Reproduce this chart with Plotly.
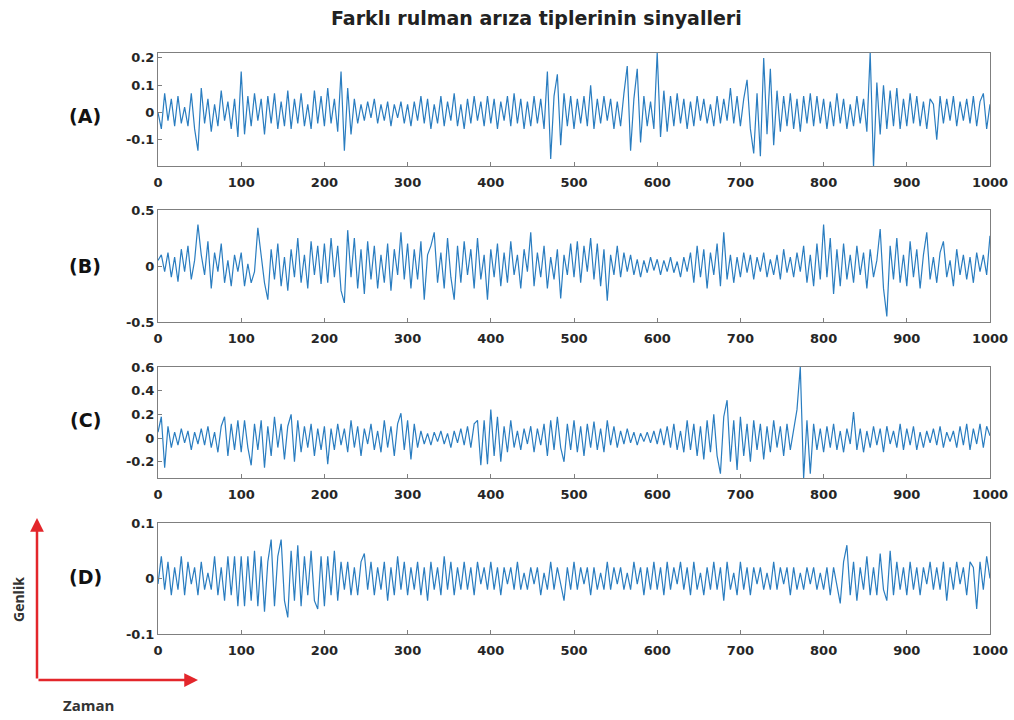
import plotly.graph_objects as go

# ---------------- data (sampled every 4 samples, 0..1000) ----------------
signal_a = [
    0.0, -0.06, 0.07, -0.03, 0.05, -0.05, 0.06, -0.04, 0.02, -0.05, 0.07, -0.06, -0.14, 0.09, -0.04, 0.05, -0.07, 0.03, -0.05, 0.08, -0.03, 0.04, -0.06, 0.05, -0.09,
    0.15, -0.08, 0.06, -0.05, 0.07, -0.03, 0.05, -0.08, 0.06, -0.04, 0.07, -0.06, 0.04, -0.05, 0.08, -0.06, 0.05, -0.04, 0.07, -0.05, 0.03, -0.06, 0.08, -0.04, 0.06,
    -0.05, 0.09, -0.04, 0.05, -0.07, 0.15, -0.14, 0.09, -0.08, 0.05, -0.04, 0.03, -0.03, 0.04, -0.02, 0.05, -0.04, 0.03, -0.03, 0.04, -0.05, 0.03, -0.02, 0.04, -0.04,
    0.03, -0.05, 0.04, -0.03, 0.06, -0.04, 0.05, -0.06, 0.03, -0.04, 0.06, -0.05, 0.04, -0.03, 0.07, -0.05, 0.03, -0.06, 0.05, -0.04, 0.06, -0.03, 0.04, -0.05, 0.06,
    -0.04, 0.05, -0.06, 0.04, -0.03, 0.06, -0.05, 0.07, -0.04, 0.05, -0.06, 0.04, -0.05, 0.06, -0.04, 0.05, -0.06, 0.15, -0.17, 0.06, 0.14, -0.12, 0.07, -0.05, 0.06,
    -0.06, 0.05, -0.04, 0.06, -0.05, 0.10, -0.06, 0.05, -0.04, 0.06, -0.03, 0.05, -0.06, 0.04, -0.05, 0.07, 0.17, -0.14, 0.05, 0.16, -0.11, 0.06, -0.05, 0.04, -0.06,
    0.22, -0.09, 0.08, -0.07, 0.06, -0.05, 0.07, -0.04, 0.05, -0.06, 0.04, -0.05, 0.06, -0.03, 0.05, -0.04, 0.03, -0.05, 0.06, -0.04, 0.05, -0.03, 0.09, -0.04, 0.06,
    -0.05, 0.05, 0.12, -0.06, -0.15, 0.07, -0.16, 0.20, -0.08, 0.16, -0.12, 0.08, -0.07, 0.06, -0.05, 0.07, -0.06, 0.05, -0.07, 0.06, -0.04, 0.07, -0.05, 0.06, -0.04,
    0.05, -0.06, 0.04, -0.05, 0.07, -0.04, 0.05, -0.06, 0.03, -0.05, 0.06, -0.04, 0.05, -0.07, 0.22, -0.20, 0.11, -0.08, 0.10, -0.06, 0.08, -0.05, 0.09, -0.06, 0.05,
    -0.05, 0.07, -0.04, 0.06, -0.05, 0.04, -0.06, 0.05, 0.03, -0.10, 0.06, -0.04, 0.05, -0.03, 0.06, -0.05, 0.04, -0.03, 0.05, -0.04, 0.06, -0.05, 0.04, 0.07, -0.06,
    0.03,
]
signal_b = [
    0.05, 0.10, -0.05, 0.12, -0.10, 0.08, -0.14, 0.15, -0.05, 0.18, -0.12, 0.05, 0.37, 0.10, -0.08, 0.22, -0.20, 0.12, -0.05, 0.20, -0.15, 0.05, -0.18, 0.10, -0.05,
    0.12, -0.18, 0.02, -0.15, -0.05, 0.34, 0.10, -0.15, -0.30, 0.15, -0.12, 0.20, -0.18, 0.08, -0.22, 0.15, -0.10, 0.25, -0.15, 0.10, -0.20, 0.22, -0.08, 0.18, -0.16,
    0.20, -0.15, 0.25, -0.10, 0.18, -0.22, -0.33, 0.32, -0.10, 0.25, -0.20, 0.15, -0.25, 0.22, -0.12, 0.18, -0.20, 0.10, -0.15, 0.20, -0.22, 0.15, -0.08, 0.30, -0.12,
    0.20, -0.20, 0.15, -0.12, 0.22, -0.30, 0.10, 0.18, 0.30, -0.15, 0.12, -0.20, 0.25, -0.10, -0.30, 0.18, -0.15, 0.22, -0.08, 0.15, -0.20, 0.25, -0.12, 0.10, -0.30,
    0.15, -0.10, 0.20, -0.18, 0.12, -0.15, 0.22, -0.08, 0.10, -0.20, 0.15, -0.05, 0.30, -0.18, 0.12, -0.10, 0.18, -0.20, 0.08, -0.12, 0.15, -0.29, 0.10, -0.08, 0.20,
    -0.10, 0.22, -0.15, 0.18, -0.05, 0.25, -0.12, 0.20, -0.18, 0.15, -0.31, 0.10, -0.08, 0.18, -0.10, 0.12, -0.05, 0.10, -0.08, 0.06, -0.10, 0.05, -0.06, 0.08, -0.04,
    0.06, -0.08, 0.05, -0.05, 0.08, -0.06, 0.04, -0.10, 0.08, -0.05, 0.12, -0.15, 0.18, -0.10, 0.15, -0.20, 0.12, -0.08, 0.20, -0.18, 0.30, -0.12, 0.10, -0.15, 0.08,
    -0.10, 0.12, -0.06, 0.10, -0.12, 0.08, -0.05, 0.12, -0.10, 0.06, -0.08, 0.10, -0.12, 0.15, -0.06, 0.08, -0.10, 0.12, -0.05, 0.18, -0.15, 0.10, -0.18, 0.20, -0.12,
    0.37, -0.10, 0.25, -0.25, 0.15, -0.18, 0.20, -0.12, 0.10, -0.15, 0.18, -0.08, 0.12, -0.20, 0.15, -0.10, 0.05, 0.33, -0.20, -0.45, 0.18, -0.12, 0.25, -0.15, 0.10,
    -0.18, 0.22, -0.10, 0.15, -0.20, 0.10, 0.30, -0.12, 0.08, -0.15, 0.12, 0.22, -0.10, 0.05, -0.18, 0.15, -0.08, 0.10, -0.12, 0.08, -0.15, 0.12, -0.05, 0.10, -0.08,
    0.27,
]
signal_c = [
    0.05, 0.18, -0.25, 0.10, -0.08, 0.05, -0.06, 0.08, -0.04, 0.06, -0.10, 0.05, -0.05, 0.08, -0.06, 0.10, -0.08, 0.05, -0.12, 0.10, 0.18, -0.15, 0.12, -0.10, 0.15,
    -0.12, 0.15, -0.08, -0.23, 0.12, -0.10, 0.15, -0.25, 0.10, -0.15, 0.18, -0.08, 0.12, -0.18, 0.10, 0.20, -0.20, 0.15, -0.12, 0.10, -0.08, 0.12, -0.15, 0.08, -0.10,
    0.10, -0.22, 0.08, -0.10, 0.12, -0.06, 0.08, -0.12, 0.15, -0.08, 0.10, -0.15, 0.08, -0.05, 0.12, -0.10, 0.06, -0.12, 0.15, -0.08, 0.10, -0.15, 0.12, 0.21, -0.10,
    0.15, -0.18, 0.12, -0.08, 0.06, -0.05, 0.04, -0.06, 0.05, -0.03, 0.06, -0.05, 0.04, -0.08, 0.06, -0.04, 0.08, -0.06, 0.10, -0.08, 0.12, 0.15, -0.23, 0.15, -0.22,
    0.24, -0.15, 0.18, -0.20, 0.10, -0.12, 0.15, -0.08, 0.06, -0.10, 0.08, -0.05, 0.10, -0.12, 0.08, -0.06, 0.12, -0.15, 0.15, -0.10, 0.18, -0.08, -0.20, 0.12, -0.10,
    0.15, -0.12, 0.10, -0.15, 0.12, -0.08, 0.14, -0.10, 0.08, -0.12, 0.15, -0.06, 0.10, -0.08, 0.06, -0.05, 0.08, -0.04, 0.05, -0.06, 0.04, -0.03, 0.05, -0.04, 0.06,
    -0.05, 0.08, -0.06, 0.10, -0.08, 0.12, -0.10, 0.06, -0.12, 0.15, -0.10, 0.12, -0.15, 0.10, -0.18, 0.15, -0.12, 0.20, -0.15, -0.30, 0.18, 0.32, -0.20, 0.15, -0.27,
    0.18, -0.15, 0.12, -0.20, 0.15, -0.10, 0.12, -0.18, 0.10, -0.12, 0.15, -0.08, 0.10, -0.15, 0.12, -0.10, 0.08, 0.24, 0.60, -0.34, 0.15, -0.30, 0.12, -0.10, 0.08,
    -0.12, 0.10, -0.08, 0.12, -0.10, 0.06, -0.12, 0.08, -0.05, 0.22, -0.10, 0.08, -0.12, 0.06, -0.08, 0.10, -0.06, 0.08, -0.12, 0.10, -0.05, 0.06, -0.08, 0.12, -0.10,
    0.08, -0.06, 0.10, -0.10, 0.05, -0.08, 0.06, -0.04, 0.08, -0.06, 0.10, -0.08, 0.05, -0.03, 0.06, -0.08, 0.10, -0.06, 0.12, -0.10, 0.08, -0.05, 0.12, -0.08, 0.10,
    0.02,
]
signal_d = [
    -0.01, 0.04, -0.02, 0.03, -0.03, 0.02, -0.02, 0.04, -0.03, 0.03, -0.01, 0.02, -0.03, 0.03, -0.02, 0.01, -0.02, 0.04, -0.03, 0.02, -0.04, 0.04, -0.03, 0.04, -0.05,
    0.04, -0.05, 0.04, -0.04, 0.05, -0.05, 0.04, -0.06, 0.03, 0.07, -0.05, 0.04, 0.07, -0.04, -0.07, 0.05, -0.04, 0.06, -0.05, 0.04, -0.03, 0.05, -0.04, -0.055, 0.04,
    -0.05, 0.04, -0.03, 0.05, -0.04, 0.03, -0.02, 0.03, -0.03, 0.02, -0.03, 0.03, 0.045, -0.02, 0.03, -0.03, 0.02, -0.02, 0.03, -0.04, 0.02, -0.03, 0.04, -0.02, 0.03,
    -0.03, 0.02, -0.02, 0.03, -0.03, 0.02, -0.04, 0.03, -0.02, 0.02, -0.03, 0.04, -0.02, 0.03, -0.03, 0.02, -0.02, 0.03, -0.02, 0.02, -0.03, 0.03, -0.01, 0.02, -0.02,
    0.03, -0.02, 0.02, -0.03, 0.02, -0.01, 0.02, -0.02, 0.03, -0.02, 0.01, -0.02, 0.02, -0.01, 0.02, -0.03, 0.01, -0.02, 0.03, -0.02, 0.02, -0.01, -0.04, 0.02, -0.02,
    0.03, -0.02, 0.02, -0.01, 0.02, -0.03, 0.02, -0.02, 0.01, -0.02, 0.03, -0.02, 0.02, -0.01, 0.02, -0.02, 0.01, -0.02, 0.03, -0.01, 0.02, -0.03, 0.02, -0.02, 0.03,
    -0.02, 0.02, -0.03, 0.03, -0.02, 0.02, -0.01, 0.03, -0.02, 0.02, -0.03, 0.03, -0.02, 0.01, -0.03, 0.02, -0.02, 0.03, -0.02, 0.02, -0.04, 0.03, -0.02, 0.01, -0.03,
    0.03, -0.02, 0.02, -0.03, 0.02, -0.01, 0.02, -0.02, 0.01, -0.02, 0.03, -0.02, 0.02, -0.01, 0.02, -0.03, 0.02, -0.02, 0.01, -0.02, 0.02, -0.01, 0.02, -0.02, 0.01,
    -0.02, 0.02, -0.03, 0.02, -0.01, -0.045, 0.03, 0.06, -0.03, 0.03, -0.04, 0.02, -0.02, 0.04, -0.03, 0.02, -0.03, 0.045, -0.02, -0.04, 0.05, -0.03, 0.03, -0.02, 0.02,
    -0.03, 0.03, -0.02, 0.02, -0.03, 0.02, -0.01, 0.03, -0.02, 0.02, -0.02, 0.03, -0.04, 0.02, -0.02, 0.03, -0.01, 0.02, -0.03, 0.03, 0.02, -0.055, 0.03, -0.02, 0.04,
    0.0,
]
sample_step = 4
panel_labels = ["(A)", "(B)", "(C)", "(D)"]
x_ticks = [0, 100, 200, 300, 400, 500, 600, 700, 800, 900, 1000]
y_ticks = [
    [0.2, 0.1, 0, -0.1],
    [0.5, 0, -0.5],
    [0.6, 0.4, 0.2, 0, -0.2],
    [0.1, 0, -0.1],
]
y_ticktext = [
    ["0.2", "0.1", "0", "-0.1"],
    ["0.5", "0", "-0.5"],
    ["0.6", "0.4", "0.2", "0", "-0.2"],
    ["0.1", "0", "-0.1"],
]
y_ranges = [[-0.196, 0.218], [-0.5, 0.5], [-0.337, 0.6], [-0.1, 0.1]]
title_text = "Farklı rulman arıza tiplerinin sinyalleri"

signals = [signal_a, signal_b, signal_c, signal_d]
for s in signals:
    assert len(s) == 251, len(s)

# ---------------- layout geometry ----------------
W, H = 1014, 720
x_dom = [158 / W, 990 / W]
panels_px = [(53, 166), (210, 322), (367, 478), (523, 634)]
label_y_px = [116, 266, 420, 577]

fig = go.Figure()
line_color = "#2a7dc0"
tick_font = dict(family="DejaVu Sans", size=13, color="#262626", weight="bold")

for i, (sig, (top, bot)) in enumerate(zip(signals, panels_px)):
    n = i + 1
    sfx = str(n) if n > 1 else ""
    xs = [k * sample_step for k in range(len(sig))]
    fig.add_trace(go.Scatter(
        x=xs, y=sig, mode="lines",
        line=dict(color=line_color, width=1.2),
        xaxis="x" + sfx, yaxis="y" + sfx,
        showlegend=False, hoverinfo="skip",
    ))
    common = dict(showline=True, mirror=True, linecolor="#7f7f7f", linewidth=1,
                  ticks="inside", ticklen=4, tickcolor="#7f7f7f", automargin=False,
                  showgrid=False, zeroline=False, tickfont=tick_font)
    xa = dict(domain=x_dom, range=[0, 1000], tickvals=x_ticks,
              ticktext=[str(t) for t in x_ticks], anchor="y" + sfx,
              ticklabelstandoff=4, **common)
    ya = dict(domain=[1 - bot / H, 1 - top / H], range=y_ranges[i],
              tickvals=y_ticks[i], ticktext=y_ticktext[i],
              anchor="x" + sfx, **common)
    fig.layout["xaxis" + sfx] = xa
    fig.layout["yaxis" + sfx] = ya
    fig.add_annotation(
        x=85 / W, y=1 - label_y_px[i] / H, xref="paper", yref="paper",
        text=panel_labels[i], showarrow=False, xanchor="center", yanchor="middle",
        font=dict(family="DejaVu Sans", size=19, color="#111111", weight="bold"),
    )

# title
fig.add_annotation(
    x=536 / W, y=1 - 18 / H, xref="paper", yref="paper", text=title_text,
    showarrow=False, xanchor="center", yanchor="middle",
    font=dict(family="DejaVu Sans", size=19, color="#222222", weight="bold"),
)

# red axis arrows
red = "#e3262b"
fig.add_annotation(x=37 / W, y=1 - 518 / H, xref="paper", yref="paper",
                   ax=0, ay=162, axref="pixel", ayref="pixel", text="",
                   showarrow=True, arrowhead=2, arrowsize=1.1, arrowwidth=2.5, arrowcolor=red)
fig.add_annotation(x=198 / W, y=1 - 680 / H, xref="paper", yref="paper",
                   ax=-161, ay=0, axref="pixel", ayref="pixel", text="",
                   showarrow=True, arrowhead=2, arrowsize=1.1, arrowwidth=2.5, arrowcolor=red)
fig.add_annotation(x=18 / W, y=1 - 600 / H, xref="paper", yref="paper", text="Genlik",
                   showarrow=False, textangle=-90, xanchor="center", yanchor="middle",
                   font=dict(family="Open Sans", size=14, color="#333333", weight="bold"))
fig.add_annotation(x=88 / W, y=1 - 705 / H, xref="paper", yref="paper", text="Zaman",
                   showarrow=False, xanchor="center", yanchor="middle",
                   font=dict(family="Open Sans", size=15, color="#333333", weight="bold"))

fig.update_layout(
    width=W, height=H, margin=dict(l=0, r=0, t=0, b=0),
    paper_bgcolor="white", plot_bgcolor="white",
)
fig.write_html("out.html")
